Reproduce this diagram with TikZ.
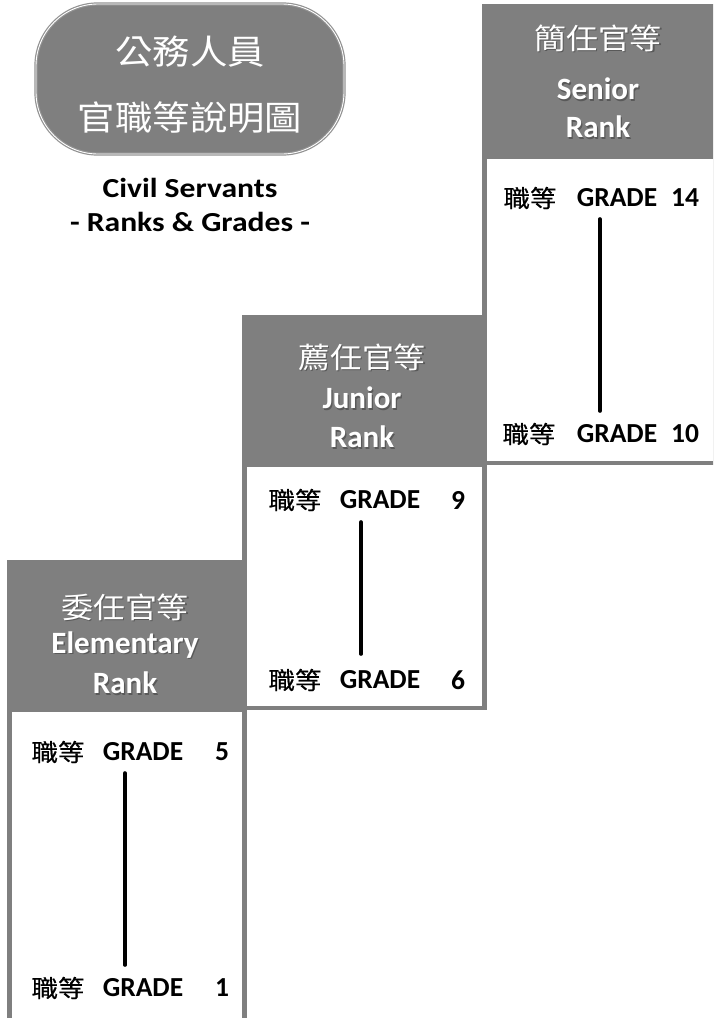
\documentclass[tikz,border=0pt]{standalone}
\usepackage{fontspec}
\setmainfont{Carlito}
\newfontfamily\widesans{Carlito}[FakeStretch=1.15]
\newfontfamily\cjk{Noto Sans CJK TC}[FakeStretch=1.1]
\newfontfamily\cjkb{Noto Sans CJK TC}[FakeStretch=1.1,FakeBold=0.7]
\definecolor{hdr}{HTML}{7F7F7F}
\definecolor{shd}{HTML}{3A3A3A}
\newcommand\htext[5]{%
  \node[hdrshadow,font=#4] (#1s) at ($(#2,#3)+(1.3,1.3)$) {#5};
  \node[hdrtext,font=#4] (#1) at (#2,#3) {#5};}
\usetikzlibrary{calc}
\begin{document}
\begin{tikzpicture}[x=1pt,y=-1pt,
  hdrtext/.style={text=white,inner sep=0pt,anchor=center},
  hdrshadow/.style={text=shd,text opacity=0.55,inner sep=0pt,anchor=center},
  gcjk/.style={font=\cjkb\fontsize{24}{25}\selectfont,inner sep=0pt},
  glat/.style={font=\bfseries\fontsize{27.5}{28}\selectfont,inner sep=0pt},
  vline/.style={line width=3.6pt,line cap=round,black},
  subtxt/.style={font=\widesans\bfseries\fontsize{27.5}{29}\selectfont,inner sep=0pt}]
\useasboundingbox (0,0) rectangle (713,1018);
\clip (0,0) rectangle (713,1018);
% boxes
\fill[hdr] (482,4) rectangle (725,465);
\fill[white] (487,159) rectangle (725,461);
\fill[hdr] (242,315) rectangle (487,710);
\fill[white] (247,467) rectangle (482,706);
\fill[hdr] (7,560) rectangle (247,1030);
\fill[white] (12,712) rectangle (242,1030);
% title pill
\node[draw=hdr!85,line width=1.2pt,double=white,double distance=0.9pt,fill=hdr,
  rounded corners=62pt,minimum width=308pt,minimum height=150pt,inner sep=0pt]
  (pill) at (190,79) {};
\node[hdrtext,font=\cjk\fontsize{34}{36}\selectfont] (t1) at (190,52) {公務人員};
\node[hdrtext,font=\cjk\fontsize{34}{36}\selectfont] (t2) at (190,118) {官職等說明圖};
\node[subtxt] (s1) at (190,188) {Civil Servants};
\node[subtxt] (s2) at (190,222) {- Ranks \& Grades -};
% senior header
\htext{sh1}{598}{38}{\cjk\fontsize{29}{30}\selectfont}{簡任官等}
\htext{sh2}{598}{89}{\bfseries\fontsize{31}{32}\selectfont}{Senior}
\htext{sh3}{598}{127}{\bfseries\fontsize{31}{32}\selectfont}{Rank}
% junior header
\htext{jh1}{362}{357}{\cjk\fontsize{29}{30}\selectfont}{薦任官等}
\htext{jh2}{362}{398}{\bfseries\fontsize{31}{32}\selectfont}{Junior}
\htext{jh3}{362}{437}{\bfseries\fontsize{31}{32}\selectfont}{Rank}
% elementary header
\htext{eh1}{125}{607}{\cjk\fontsize{29}{30}\selectfont}{委任官等}
\htext{eh2}{125}{645}{\bfseries\fontsize{31}{32}\selectfont}{Elementary}
\htext{eh3}{125}{683}{\bfseries\fontsize{31}{32}\selectfont}{Rank}
% senior grades
\node[gcjk] (s14a) at (530,198) {職等};
\node[glat] (s14b) at (617,198) {GRADE};
\node[glat] (s14c) at (685,198) {14};
\node[gcjk] (s10a) at (529,434) {職等};
\node[glat] (s10b) at (617,434) {GRADE};
\node[glat] (s10c) at (685,434) {10};
\coordinate (sl1) at (600,219);
\coordinate (sl2) at (600,411);
\draw[vline] (sl1) -- (sl2);
% junior grades
\node[gcjk] (j9a) at (295,500) {職等};
\node[glat] (j9b) at (380,500) {GRADE};
\node[glat] (j9c) at (458,500) {9};
\node[gcjk] (j6a) at (295,680) {職等};
\node[glat] (j6b) at (380,680) {GRADE};
\node[glat] (j6c) at (458,680) {6};
\coordinate (jl1) at (361,522);
\coordinate (jl2) at (361,654);
\draw[vline] (jl1) -- (jl2);
% elementary grades
\node[gcjk] (e5a) at (58,752) {職等};
\node[glat] (e5b) at (143,752) {GRADE};
\node[glat] (e5c) at (222,752) {5};
\node[gcjk] (e1a) at (58,988) {職等};
\node[glat] (e1b) at (143,988) {GRADE};
\node[glat] (e1c) at (222,988) {1};
\coordinate (el1) at (125,773);
\coordinate (el2) at (125,965);
\draw[vline] (el1) -- (el2);
\end{tikzpicture}
\end{document}
